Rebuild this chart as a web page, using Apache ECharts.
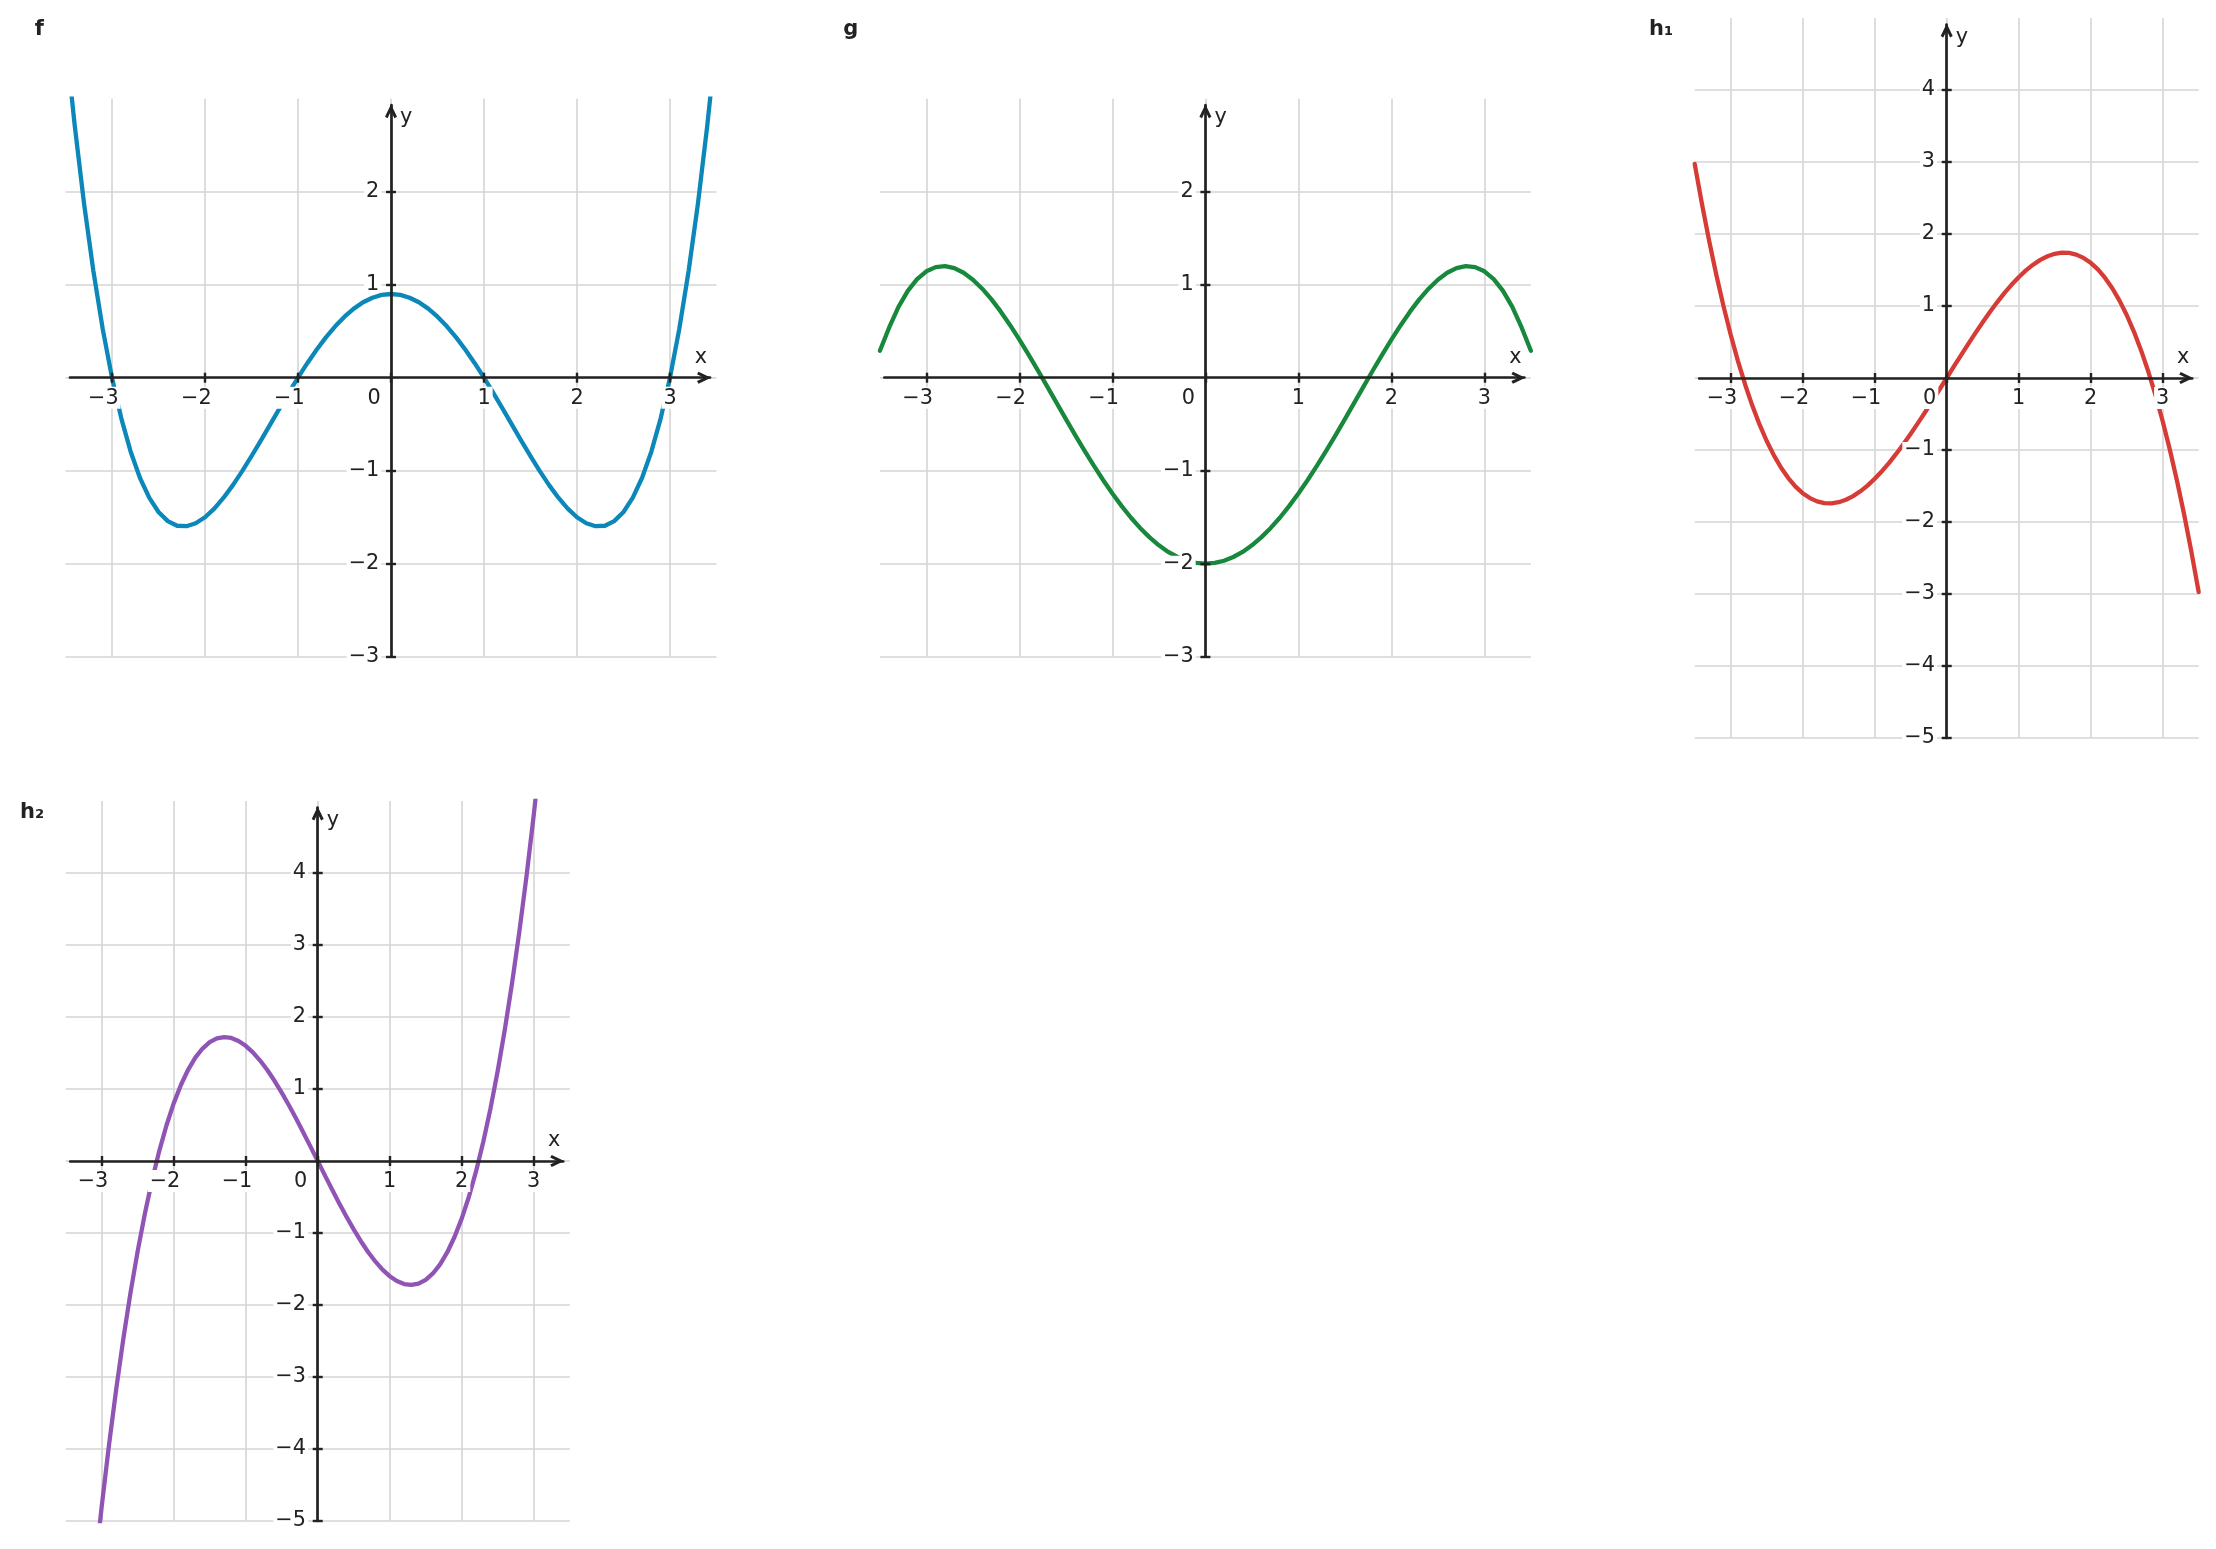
<!DOCTYPE html>
<html>
<head>
<meta charset="utf-8">
<script src="https://cdn.jsdelivr.net/npm/echarts@6/dist/echarts.min.js"></script>
<style>
html,body{margin:0;padding:0;background:#fff;}
#chart{width:2216px;height:1549px;}
</style>
</head>
<body>
<div id="chart"></div>
<script>
// ---- data ----
const xs = [-3.5,-3.4,-3.3,-3.2,-3.1,-3.0,-2.9,-2.8,-2.7,-2.6,-2.5,-2.4,-2.3,-2.2,-2.1,-2.0,-1.9,-1.8,-1.7,-1.6,-1.5,-1.4,-1.3,-1.2,-1.1,-1.0,-0.9,-0.8,-0.7,-0.6,-0.5,-0.4,-0.3,-0.2,-0.1,0,0.1,0.2,0.3,0.4,0.5,0.6,0.7,0.8,0.9,1.0,1.1,1.2,1.3,1.4,1.5,1.6,1.7,1.8,1.9,2.0,2.1,2.2,2.3,2.4,2.5,2.6,2.7,2.8,2.9,3.0,3.1,3.2,3.3,3.4,3.5];
const fVals = [3.656,2.703,1.869,1.146,0.525,0,-0.437,-0.793,-1.076,-1.290,-1.444,-1.542,-1.592,-1.597,-1.565,-1.500,-1.407,-1.290,-1.155,-1.005,-0.844,-0.676,-0.504,-0.333,-0.164,0,0.156,0.301,0.434,0.553,0.656,0.743,0.811,0.860,0.890,0.900,0.890,0.860,0.811,0.743,0.656,0.553,0.434,0.301,0.156,0,-0.164,-0.333,-0.504,-0.676,-0.844,-1.005,-1.155,-1.290,-1.407,-1.500,-1.565,-1.597,-1.592,-1.542,-1.444,-1.290,-1.076,-0.793,-0.437,0,0.525,1.146,1.869,2.703,3.656];
const gVals = [0.290,0.540,0.762,0.934,1.060,1.144,1.189,1.199,1.178,1.128,1.054,0.957,0.842,0.710,0.565,0.410,0.246,0.077,-0.096,-0.271,-0.445,-0.617,-0.784,-0.946,-1.100,-1.246,-1.381,-1.506,-1.618,-1.717,-1.802,-1.873,-1.928,-1.968,-1.992,-2.000,-1.992,-1.968,-1.928,-1.873,-1.802,-1.717,-1.618,-1.506,-1.381,-1.246,-1.100,-0.946,-0.784,-0.617,-0.445,-0.271,-0.096,0.077,0.246,0.410,0.565,0.710,0.842,0.957,1.054,1.128,1.178,1.199,1.189,1.144,1.060,0.934,0.762,0.540,0.290];
const h1Vals = [2.975,2.421,1.907,1.434,0.998,0.600,0.238,-0.090,-0.383,-0.645,-0.875,-1.075,-1.247,-1.390,-1.508,-1.600,-1.668,-1.714,-1.737,-1.741,-1.725,-1.691,-1.641,-1.574,-1.494,-1.400,-1.294,-1.178,-1.051,-0.917,-0.775,-0.627,-0.475,-0.318,-0.160,0,0.160,0.318,0.475,0.627,0.775,0.917,1.051,1.178,1.294,1.400,1.494,1.574,1.641,1.691,1.725,1.741,1.737,1.714,1.668,1.600,1.508,1.390,1.247,1.075,0.875,0.645,0.383,0.090,-0.238,-0.600,-0.998,-1.434,-1.907,-2.421,-2.975];
const h2Vals = [-10.150,-8.922,-7.775,-6.707,-5.716,-4.800,-3.956,-3.181,-2.473,-1.830,-1.250,-0.730,-0.267,0.141,0.496,0.800,1.056,1.267,1.435,1.562,1.650,1.702,1.721,1.709,1.668,1.600,1.508,1.395,1.263,1.114,0.950,0.774,0.589,0.397,0.200,0,-0.200,-0.397,-0.589,-0.774,-0.950,-1.114,-1.263,-1.395,-1.508,-1.600,-1.668,-1.709,-1.721,-1.702,-1.650,-1.562,-1.435,-1.267,-1.056,-0.800,-0.496,-0.141,0.267,0.730,1.250,1.830,2.473,3.181,3.956,4.800,5.716,6.707,7.775,8.922,10.150];
const xTicks  = [-3,-2,-1,0,1,2,3];
const yTicksF = [-3,-2,-1,1,2];
const yTicksH = [-5,-4,-3,-2,-1,1,2,3,4];
const titles  = ['f','g','h\u2081','h\u2082'];
const axisNames = ['x','y'];

// ---- styling / layout ----
const colors = ['#0b87b9','#17883c','#d63b35','#9054b5'];
const seriesVals = [fVals, gVals, h1Vals, h2Vals];
const yTickSets = [yTicksF, yTicksF, yTicksH, yTicksH];
const layout = [
  {ox:391,    oy:377.7, ppu:93, yMin:-3, yMax:3, titleY:29.2},
  {ox:1205.4, oy:377.7, ppu:93, yMin:-3, yMax:3, titleY:29.2},
  {ox:1946.7, oy:378,   ppu:72, yMin:-5, yMax:5, titleY:29.2},
  {ox:317.7,  oy:1161,  ppu:72, yMin:-5, yMax:5, titleY:812.7}
];
const X_MIN = -3.5, X_MAX = 3.5;
const FONT = 'DejaVu Sans';
const INK = '#222222';
const GRID = '#d5d5d5';
const FS = 20.8;
const ARROW = 'path://M60 0L120 125L94 140L60 69L26 140L0 125Z';
const minus = v => (v < 0 ? '\u2212' + (-v) : String(v));

const grids = [], xAxes = [], yAxes = [], series = [], graphics = [];

layout.forEach((L, p) => {
  const aLeft = L.ox + X_MIN * L.ppu;
  const aTop = L.oy - L.yMax * L.ppu;
  grids.push({left:aLeft, top:aTop, width:(X_MAX - X_MIN) * L.ppu, height:(L.yMax - L.yMin) * L.ppu, outerBoundsMode:'none', containLabel:false});
  const bxMin = X_MIN + 4.5 / L.ppu, bxMax = X_MAX - 6.5 / L.ppu, byMax = L.yMax - 6.5 / L.ppu;
  grids.push({left:aLeft + 4.5, top:aTop + 6.5, width:(bxMax - bxMin) * L.ppu, height:(byMax - L.yMin) * L.ppu, outerBoundsMode:'none', containLabel:false});
  const gA = 2 * p, gB = 2 * p + 1;
  const ax = 3 * p;
  const tickStyle = {color:INK, width:2.4};
  const xOffset = L.yMin * L.ppu;          // bottom axis moved up to y = 0
  const yOffset = X_MIN * L.ppu + 4.5;     // left axis moved right to x = 0

  // grid lines
  xAxes.push({gridIndex:gA, type:'value', min:X_MIN, max:X_MAX, interval:0.5,
    axisLine:{show:false}, axisTick:{show:false}, axisLabel:{show:false},
    splitLine:{show:true, lineStyle:{color:['rgba(0,0,0,0)', GRID], width:1.6}}, z:0});
  yAxes.push({gridIndex:gA, type:'value', min:L.yMin, max:L.yMax, interval:1,
    axisLine:{show:false}, axisTick:{show:false}, axisLabel:{show:false},
    splitLine:{show:true, showMaxLine:false, lineStyle:{color:GRID, width:1.6}}, z:0});

  // x axis: line, arrow, ticks, labels
  xAxes.push({gridIndex:gB, type:'value', min:bxMin, max:bxMax, position:'bottom', offset:xOffset,
    axisLine:{show:true, onZero:false, symbol:['none', ARROW], symbolSize:[12,14], symbolOffset:[0,-6],
      lineStyle:{color:INK, width:2.7}},
    axisTick:{show:true, customValues:xTicks, length:5, inside:false, lineStyle:tickStyle},
    axisLabel:{show:true, customValues:xTicks, margin:12, hideOverlap:false,
      formatter:v => v < 0 ? '{t|' + minus(v) + '}{s| }' : (v === 0 ? '{t|0}{z| }' : '{t|' + v + '}'),
      rich:{
        t:{backgroundColor:'#ffffff', padding:[1,2,0,2], fontSize:FS, fontFamily:FONT, color:INK, lineHeight:16},
        s:{width:17.4, fontSize:FS, fontFamily:FONT, lineHeight:16},
        z:{width:34, fontSize:FS, fontFamily:FONT, lineHeight:16}
      }},
    splitLine:{show:false}, z:10});
  xAxes.push({gridIndex:gB, type:'value', min:bxMin, max:bxMax, position:'bottom', offset:xOffset,
    axisLine:{show:false, onZero:false},
    axisTick:{show:true, customValues:xTicks, length:5, inside:true, lineStyle:tickStyle},
    axisLabel:{show:false}, splitLine:{show:false}, z:10});

  // y axis: line, arrow, ticks, labels
  yAxes.push({gridIndex:gB, type:'value', min:L.yMin, max:byMax, position:'left', offset:yOffset,
    axisLine:{show:true, onZero:false, symbol:['none', ARROW], symbolSize:[12,14], symbolOffset:[0,-6],
      lineStyle:{color:INK, width:2.7}},
    axisTick:{show:true, customValues:yTickSets[p], length:5, inside:false, lineStyle:tickStyle},
    axisLabel:{show:true, customValues:yTickSets[p], margin:9.7, hideOverlap:false, formatter:minus,
      backgroundColor:'#ffffff', padding:[1,2,0,2], fontSize:FS, fontFamily:FONT, color:INK, lineHeight:15},
    splitLine:{show:false}, z:10});
  yAxes.push({gridIndex:gB, type:'value', min:L.yMin, max:byMax, position:'left', offset:yOffset,
    axisLine:{show:false, onZero:false},
    axisTick:{show:true, customValues:yTickSets[p], length:5, inside:true, lineStyle:tickStyle},
    axisLabel:{show:false}, splitLine:{show:false}, z:10});

  series.push({type:'line', xAxisIndex:ax, yAxisIndex:ax,
    data:xs.map((x, i) => [x, seriesVals[p][i]]),
    smooth:false, showSymbol:false, symbol:'none', clip:true, silent:true,
    lineStyle:{color:colors[p], width:4.3, join:'round', cap:'round'}, z:2});

  graphics.push({type:'text', x:aLeft - 21.5, y:L.titleY, silent:true, z:20,
    style:{text:titles[p], fill:INK, font:'bold 21px "DejaVu Sans"', align:'right', textAlign:'right', verticalAlign:'middle', textVerticalAlign:'middle'}});
  graphics.push({type:'text', x:L.ox + X_MAX * L.ppu - 15.5, y:L.oy - 20.3, silent:true, z:20,
    style:{text:axisNames[0], fill:INK, font:FS + 'px "DejaVu Sans"', align:'center', textAlign:'center', verticalAlign:'middle', textVerticalAlign:'middle'}});
  graphics.push({type:'text', x:L.ox + 9, y:aTop + 19.3, silent:true, z:20,
    style:{text:axisNames[1], fill:INK, font:FS + 'px "DejaVu Sans"', align:'left', textAlign:'left', verticalAlign:'middle', textVerticalAlign:'middle'}});
});

const chart = echarts.init(document.getElementById('chart'), null, {renderer:'canvas'});
chart.setOption({
  backgroundColor:'#ffffff',
  animation:false,
  textStyle:{fontFamily:FONT},
  grid:grids,
  xAxis:xAxes,
  yAxis:yAxes,
  series:series,
  graphic:graphics
});
</script>
</body>
</html>
